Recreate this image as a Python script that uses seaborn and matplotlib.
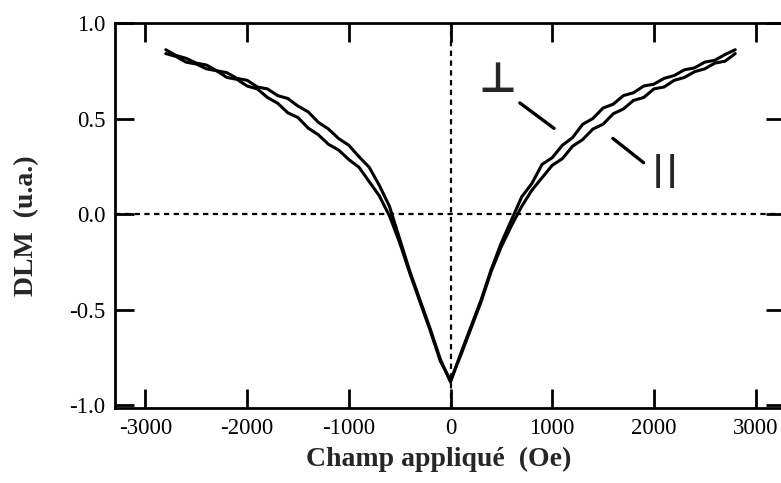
import pandas as pd
import seaborn as sns
import matplotlib.pyplot as plt

# champ appliqué (Oe), balayage de -2800 à +2800
field = [-2800, -2700, -2600, -2500, -2400, -2300, -2200, -2100, -2000, -1900,
         -1800, -1700, -1600, -1500, -1400, -1300, -1200, -1100, -1000, -900,
         -800, -700, -600, -500, -400, -300, -200, -100, 0, 100,
         200, 300, 400, 500, 600, 700, 800, 900, 1000, 1100,
         1200, 1300, 1400, 1500, 1600, 1700, 1800, 1900, 2000, 2100,
         2200, 2300, 2400, 2500, 2600, 2700, 2800]

# DLM (u.a.), orientation perpendiculaire
dlm_perp = [0.86, 0.83, 0.815, 0.79, 0.78, 0.75, 0.74, 0.71, 0.70, 0.665,
            0.655, 0.62, 0.605, 0.565, 0.535, 0.48, 0.445, 0.395, 0.36, 0.30,
            0.245, 0.15, 0.04, -0.13, -0.30, -0.45, -0.60, -0.76, -0.88, -0.73,
            -0.59, -0.45, -0.29, -0.15, -0.03, 0.09, 0.16, 0.26, 0.295, 0.36,
            0.40, 0.47, 0.50, 0.555, 0.575, 0.62, 0.635, 0.67, 0.68, 0.71,
            0.725, 0.755, 0.765, 0.795, 0.805, 0.835, 0.86]

# DLM (u.a.), orientation parallèle
dlm_para = [0.84, 0.825, 0.795, 0.785, 0.76, 0.75, 0.715, 0.705, 0.67, 0.655,
            0.61, 0.58, 0.53, 0.505, 0.45, 0.415, 0.365, 0.335, 0.285, 0.245,
            0.17, 0.095, -0.01, -0.15, -0.31, -0.46, -0.61, -0.77, -0.87, -0.74,
            -0.60, -0.46, -0.30, -0.17, -0.06, 0.04, 0.125, 0.19, 0.255, 0.29,
            0.355, 0.39, 0.445, 0.47, 0.525, 0.55, 0.595, 0.61, 0.655, 0.665,
            0.70, 0.715, 0.745, 0.76, 0.79, 0.80, 0.84]

x_ticks = [-3000, -2000, -1000, 0, 1000, 2000, 3000]
y_ticks = [-1.0, -0.5, 0.0, 0.5, 1.0]


def main():
    df = pd.concat([
        pd.DataFrame({'champ': field, 'dlm': dlm_perp, 'orientation': 'perp'}),
        pd.DataFrame({'champ': field, 'dlm': dlm_para, 'orientation': 'para'}),
    ])

    sns.set_style('ticks')
    plt.rcParams['font.family'] = ['Liberation Serif', 'DejaVu Serif']

    fig = plt.figure(figsize=(7.81, 4.83), dpi=100)
    ax = fig.add_axes([0.1472, 0.1553, 0.8580, 0.7971])

    sns.lineplot(data=df, x='champ', y='dlm', units='orientation', estimator=None,
                 sort=False, color='black', lw=2.2, ax=ax, legend=False)

    # axes pointillés en 0
    ax.axhline(0, color='black', lw=1.6, ls=(0, (2.4, 2.0)), zorder=1)
    ax.axvline(0, color='black', lw=1.6, ls=(0, (2.4, 2.0)), zorder=1)

    ax.set_xlim(-3300, 3290)
    ax.set_ylim(-1.015, 1.0)
    ax.set_xticks(x_ticks)
    ax.set_xticklabels([f'{t}' for t in x_ticks])
    ax.set_yticks(y_ticks)
    ax.set_yticklabels([f'{t:.1f}' for t in y_ticks])
    ax.tick_params(direction='in', length=14, width=2, top=True, right=True,
                   labelsize=16.5, pad=7, colors='black')
    for s in ax.spines.values():
        s.set_linewidth(2)
        s.set_color('black')

    ax.set_xlabel('Champ appliqué  (Oe)', fontsize=20, fontweight='bold')
    ax.set_ylabel('DLM  (u.a.)', fontsize=20, fontweight='bold')
    ax.xaxis.set_label_coords(0.483, -0.1)
    ax.yaxis.set_label_coords(-0.113, 0.473)

    # repères des deux orientations
    ax.text(462, 0.70, '⊥', fontsize=30, family=['DejaVu Sans'], fontweight='bold',
            ha='center', va='center')
    for xb in (2035, 2180):
        ax.text(xb, 0.225, '|', fontsize=24, family=['DejaVu Sans'], fontweight='bold',
                ha='center', va='center')
    ax.annotate('', xy=(1040, 0.44), xytext=(660, 0.59),
                arrowprops=dict(arrowstyle='-', lw=2.4, color='black'))
    ax.annotate('', xy=(1920, 0.26), xytext=(1575, 0.405),
                arrowprops=dict(arrowstyle='-', lw=2.4, color='black'))

    fig.savefig('out.png', dpi=100)


if __name__ == '__main__':
    main()
